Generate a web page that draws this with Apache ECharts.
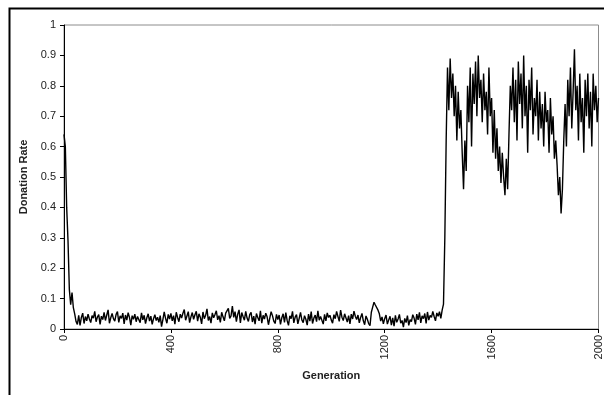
<!DOCTYPE html>
<html>
<head>
<meta charset="utf-8">
<script src="https://cdn.jsdelivr.net/npm/echarts@6/dist/echarts.min.js"></script>
<style>
html,body{margin:0;padding:0;background:#fff;}
#chart{width:604px;height:395px;}
</style>
</head>
<body>
<div id="chart"></div>
<script>
// Generation step between plotted samples
var generationStep = 5;
var xTickLabels = ['0', '400', '800', '1200', '1600', '2000'];
var yTickLabels = ['0', '0.1', '0.2', '0.3', '0.4', '0.5', '0.6', '0.7', '0.8', '0.9', '1'];

// Donation rate, generations 0..50
var startPhase = [0.64, 0.60, 0.40, 0.29, 0.13, 0.08, 0.12, 0.07, 0.05, 0.025, 0.015];
// generations 55..1420
var lowPhase = [
  0.045,0.012,0.038,0.052,0.018,0.041,0.027,0.049,0.033,
  0.021,0.044,0.036,0.058,0.024,0.039,0.047,0.015,0.042,0.031,0.055,0.028,0.046,0.063,0.019,0.037,0.051,0.034,0.026,0.048,
  0.057,0.022,0.043,0.035,0.052,0.017,0.046,0.029,0.054,0.038,0.013,0.044,0.032,0.049,0.024,0.041,0.036,0.021,0.053,0.030,
  0.045,0.018,0.037,0.050,0.026,0.042,0.015,0.034,0.047,0.028,0.039,0.022,0.044,0.008,0.031,0.056,0.035,0.019,0.048,0.033,
  0.051,0.027,0.044,0.016,0.055,0.038,0.024,0.049,0.036,0.052,0.064,0.029,0.043,0.057,0.021,0.040,0.054,0.032,0.047,0.058,
  0.026,0.050,0.039,0.017,0.056,0.034,0.045,0.066,0.028,0.041,0.019,0.053,0.037,0.048,0.060,0.030,0.044,0.022,0.055,0.040,
  0.027,0.052,0.046,0.068,0.035,0.043,0.075,0.038,0.057,0.024,0.049,0.063,0.020,0.054,0.041,0.029,0.058,0.036,0.025,0.047,
  0.055,0.023,0.042,0.016,0.051,0.038,0.027,0.060,0.019,0.045,0.033,0.052,0.040,0.014,0.036,0.057,0.044,0.026,0.018,0.048,
  0.031,0.046,0.015,0.037,0.050,0.022,0.054,0.028,0.012,0.043,0.034,0.058,0.020,0.039,0.047,0.017,0.035,0.055,0.030,0.021,
  0.044,0.032,0.013,0.049,0.026,0.057,0.018,0.036,0.046,0.024,0.060,0.029,0.041,0.035,0.016,0.048,0.027,0.053,0.038,0.045,
  0.030,0.019,0.047,0.034,0.058,0.041,0.025,0.062,0.039,0.028,0.050,0.056,0.023,0.044,0.017,0.049,0.033,0.059,0.042,0.031,
  0.046,0.020,0.038,0.051,0.027,0.014,0.043,0.032,0.018,0.011,0.055,0.072,0.088,0.079,0.084,0.062,0.050,0.026,0.040,0.017,
  0.034,0.046,0.016,0.030,0.042,0.013,0.037,0.009,0.045,0.022,0.033,0.048,0.019,0.028,0.006,0.035,0.021,0.044,0.012,0.031,
  0.024,0.047,0.036,0.015,0.049,0.030,0.055,0.020,0.043,0.034,0.051,0.018,0.056,0.029,0.045,0.038,0.058,0.041,0.027,0.053,
  0.042,0.057,0.035,0.062,0.082
];
// generations 1425..2000
var highPhase = [
  0.30,0.62,0.86,0.72,0.89,0.76,0.84,0.70,0.80,0.62,0.78,0.66,0.72,0.58,0.46,
  0.62,0.52,0.80,0.68,0.86,0.60,0.84,0.74,0.88,0.70,0.90,0.76,0.82,0.68,0.84,0.72,0.78,0.64,0.86,0.70,
  0.76,0.58,0.72,0.56,0.66,0.52,0.60,0.48,0.58,0.50,0.44,0.56,0.46,0.64,0.80,0.72,0.86,0.68,0.82,0.62,
  0.88,0.74,0.84,0.66,0.90,0.70,0.80,0.58,0.82,0.72,0.86,0.64,0.76,0.70,0.82,0.62,0.78,0.66,0.74,0.60,
  0.78,0.68,0.72,0.58,0.76,0.64,0.70,0.56,0.62,0.54,0.44,0.50,0.38,0.46,0.62,0.74,0.60,0.82,0.70,0.86,
  0.66,0.78,0.92,0.72,0.80,0.62,0.84,0.68,0.76,0.58,0.82,0.70,0.84,0.66,0.78,0.60,0.84,0.72,0.80,0.68,
  0.76
];

var donationRate = startPhase.concat(lowPhase, highPhase);
var seriesData = donationRate.map(function (v, i) { return [i * generationStep, v]; });

var font = '"Liberation Sans", Arial, sans-serif';
var chart = echarts.init(document.getElementById('chart'));
chart.setOption({
  animation: false,
  backgroundColor: '#fff',
  grid: { left: 64, right: 4, top: 25, bottom: 66, show: true, borderColor: '#8c8c8c', borderWidth: 1 },
  graphic: [{
    type: 'rect', left: 7, top: 6, z: -1,
    shape: { x: 0, y: 0, width: 640, height: 440 },
    style: { fill: 'none', stroke: '#000', lineWidth: 2 }
  }],
  xAxis: {
    type: 'value', min: 0, max: 2000, interval: 400,
    name: 'Generation', nameLocation: 'middle', nameGap: 41,
    nameTextStyle: { fontFamily: font, fontSize: 11, fontWeight: 'bold', color: '#222' },
    axisLine: { lineStyle: { color: '#000', width: 1 } },
    axisTick: { length: 4, lineStyle: { color: '#000' } },
    axisLabel: { rotate: 90, fontFamily: font, fontSize: 11, color: '#222', margin: 6,
      formatter: function (v) { var i = xTickLabels.indexOf(String(v)); return i >= 0 ? xTickLabels[i] : ''; } },
    splitLine: { show: false }
  },
  yAxis: {
    type: 'value', min: 0, max: 1, interval: 0.1,
    name: 'Donation Rate', nameLocation: 'middle', nameGap: 34,
    nameTextStyle: { fontFamily: font, fontSize: 11, fontWeight: 'bold', color: '#222' },
    axisLine: { show: true, lineStyle: { color: '#000', width: 1 } },
    axisTick: { show: true, length: 4, lineStyle: { color: '#000' } },
    axisLabel: { fontFamily: font, fontSize: 11, color: '#222', margin: 8,
      formatter: function (v) { return yTickLabels[Math.round(v * 10)]; } },
    splitLine: { show: false }
  },
  series: [{
    type: 'line', data: seriesData, showSymbol: false, symbol: 'none',
    lineStyle: { color: '#000', width: 1.4 }, clip: true
  }]
});
</script>
</body>
</html>
